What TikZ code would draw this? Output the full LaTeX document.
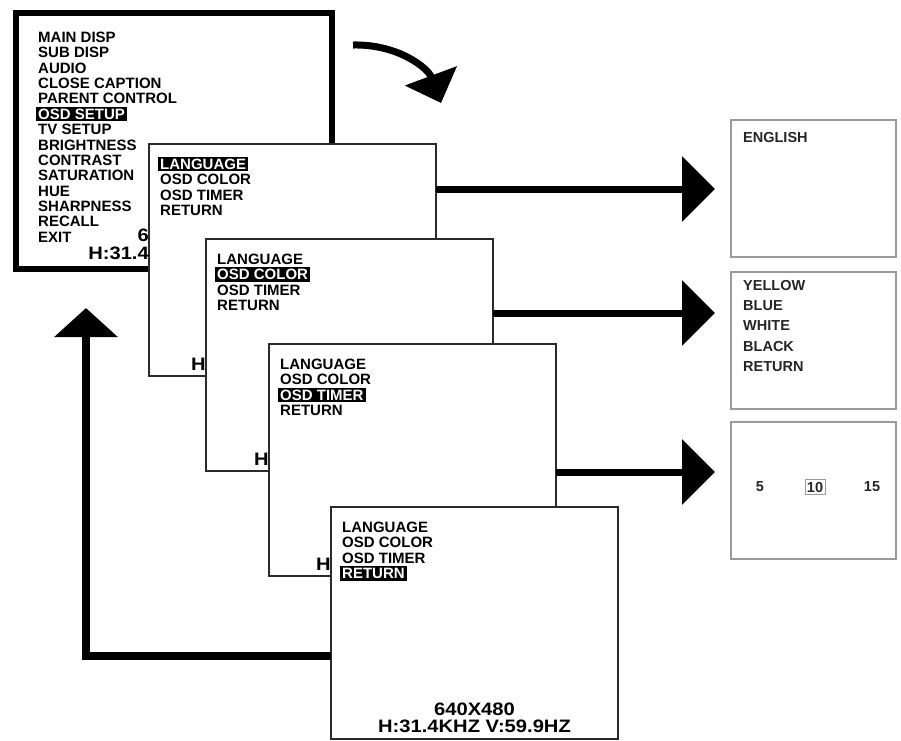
\documentclass[tikz,border=0pt]{standalone}
\usepackage{fontspec}
\setmainfont{Liberation Sans}
\newfontfamily\statusfont[FakeStretch=1.12]{Liberation Sans}
\usetikzlibrary{arrows.meta,calc}
\definecolor{scrline}{HTML}{2A2A2A}
\definecolor{panegray}{HTML}{9A9A9A}

\begin{document}
\begin{tikzpicture}[x=1pt,y=-1pt,
  screen/.style={draw=scrline,fill=white,line width=2pt,inner sep=0pt,outer sep=0pt,
    minimum width=287pt,minimum height=232pt,anchor=north west},
  pane/.style={draw=panegray,fill=white,line width=1.6pt,inner sep=0pt,outer sep=0pt,
    minimum width=165pt,minimum height=137pt,anchor=north west},
  item/.style={anchor=west,inner xsep=2pt,inner ysep=1.8pt,text height=10.8pt,text depth=0pt,
    font=\fontsize{15}{15}\selectfont\bfseries},
  hilite/.style={item,fill=black,text=white},
  choice/.style={anchor=west,inner sep=0pt,font=\fontsize{14.5}{14}\selectfont\bfseries,text=black!85},
  freq/.style={anchor=base,inner sep=0pt,font=\statusfont\fontsize{18}{17.5}\selectfont\bfseries},
  bigarrow/.style={line width=7pt,-{Triangle[length=33pt,width=64pt]}},
  backarrow/.style={line width=8pt,-{Triangle[length=29pt,width=62pt]}},
]
\useasboundingbox (0,0) rectangle (901,740);

% main menu screen
\node[screen,draw=black,line width=6pt,minimum width=316pt,minimum height=256pt] (mainscr) at (16,13) {};
\foreach \txt [count=\i] in {MAIN DISP,SUB DISP,AUDIO,CLOSE CAPTION,PARENT CONTROL,OSD SETUP,TV SETUP,
    BRIGHTNESS,CONTRAST,SATURATION,HUE,SHARPNESS,RECALL,EXIT}{
  \pgfmathsetmacro\iy{37+(\i-1)*15.38}
  \ifnum\i=6
    \node[hilite] (mainscr-\i) at (36,\iy) {\txt};
  \else
    \node[item] (mainscr-\i) at (36,\iy) {\txt};
  \fi
}

% osd setup screens, one per selected line
\foreach \s/\px/\py/\hl in {langscr/149/144/1,colscr/206/239/2,timscr/269/344/3,retscr/331/507/4}{
  \node[screen] (\s) at (\px,\py) {};
  \foreach \txt [count=\i] in {LANGUAGE,OSD COLOR,OSD TIMER,RETURN}{
    \pgfmathsetmacro\iy{\py+20+(\i-1)*15.5}
    \ifnum\i=\hl
      \node[hilite] (\s-\i) at (\px+9,\iy) {\txt};
    \else
      \node[item] (\s-\i) at (\px+9,\iy) {\txt};
    \fi
  }
}
% what is left in sight of the covered status lines
\node[freq,anchor=base east] (mainscr-res) at ([yshift=27.5pt]langscr.west |- mainscr.south) {6};
\node[freq,anchor=base east] (mainscr-hz) at ([yshift=10pt]langscr.west |- mainscr.south) {H:31.4};
\node[freq,anchor=base east] (langscr-hz) at ([yshift=6pt]colscr.west |- langscr.south) {H};
\node[freq,anchor=base east] (colscr-hz) at ([yshift=6pt]timscr.west |- colscr.south) {H};
\node[freq,anchor=base east] (timscr-hz) at ([yshift=6pt]retscr.west |- timscr.south) {H};
\node[freq,anchor=south,align=center,text depth=0pt] (retscr-hz) at ([yshift=6pt]retscr.south)
  {640X480\\H:31.4KHZ V:59.9HZ};

% option panes
\node[pane] (engpane) at (731,120) {};
\node[pane] (colpane) at (731,272) {};
\node[pane] (timpane) at (731,422) {};
\node[choice] (eng-1) at (743,138) {ENGLISH};
\foreach \txt [count=\i] in {YELLOW,BLUE,WHITE,BLACK,RETURN}{
  \pgfmathsetmacro\iy{285+(\i-1)*20.5}
  \node[choice] (col-\i) at (743,\iy) {\txt};
}
\node[choice,anchor=center] (tim-5) at (760,487) {5};
\node[choice,anchor=center,draw=panegray,line width=0.8pt,inner sep=2pt] (tim-10) at (815,487) {10};
\node[choice,anchor=center] (tim-15) at (872,487) {15};

% arrows
\coordinate (tip1) at (715,189);
\coordinate (tip2) at (715,313);
\coordinate (tip3) at (715,472);
\draw[bigarrow] (langscr.east |- tip1) -- (tip1);
\draw[bigarrow] (colscr.east |- tip2) -- (tip2);
\draw[bigarrow] (timscr.east |- tip3) -- (tip3);

\coordinate (backrow) at (0,656);
\coordinate (backtip) at (86,308);
\draw[backarrow] (retscr.west |- backrow) -| (backtip);

\coordinate (swoopfrom) at (353,45);
\coordinate (swoopto) at (441,103);
\draw[line width=7pt,-{Triangle[length=29pt,width=54pt]}] (swoopfrom) .. controls (398,44) and (428,68) .. (swoopto);
\end{tikzpicture}
\end{document}
